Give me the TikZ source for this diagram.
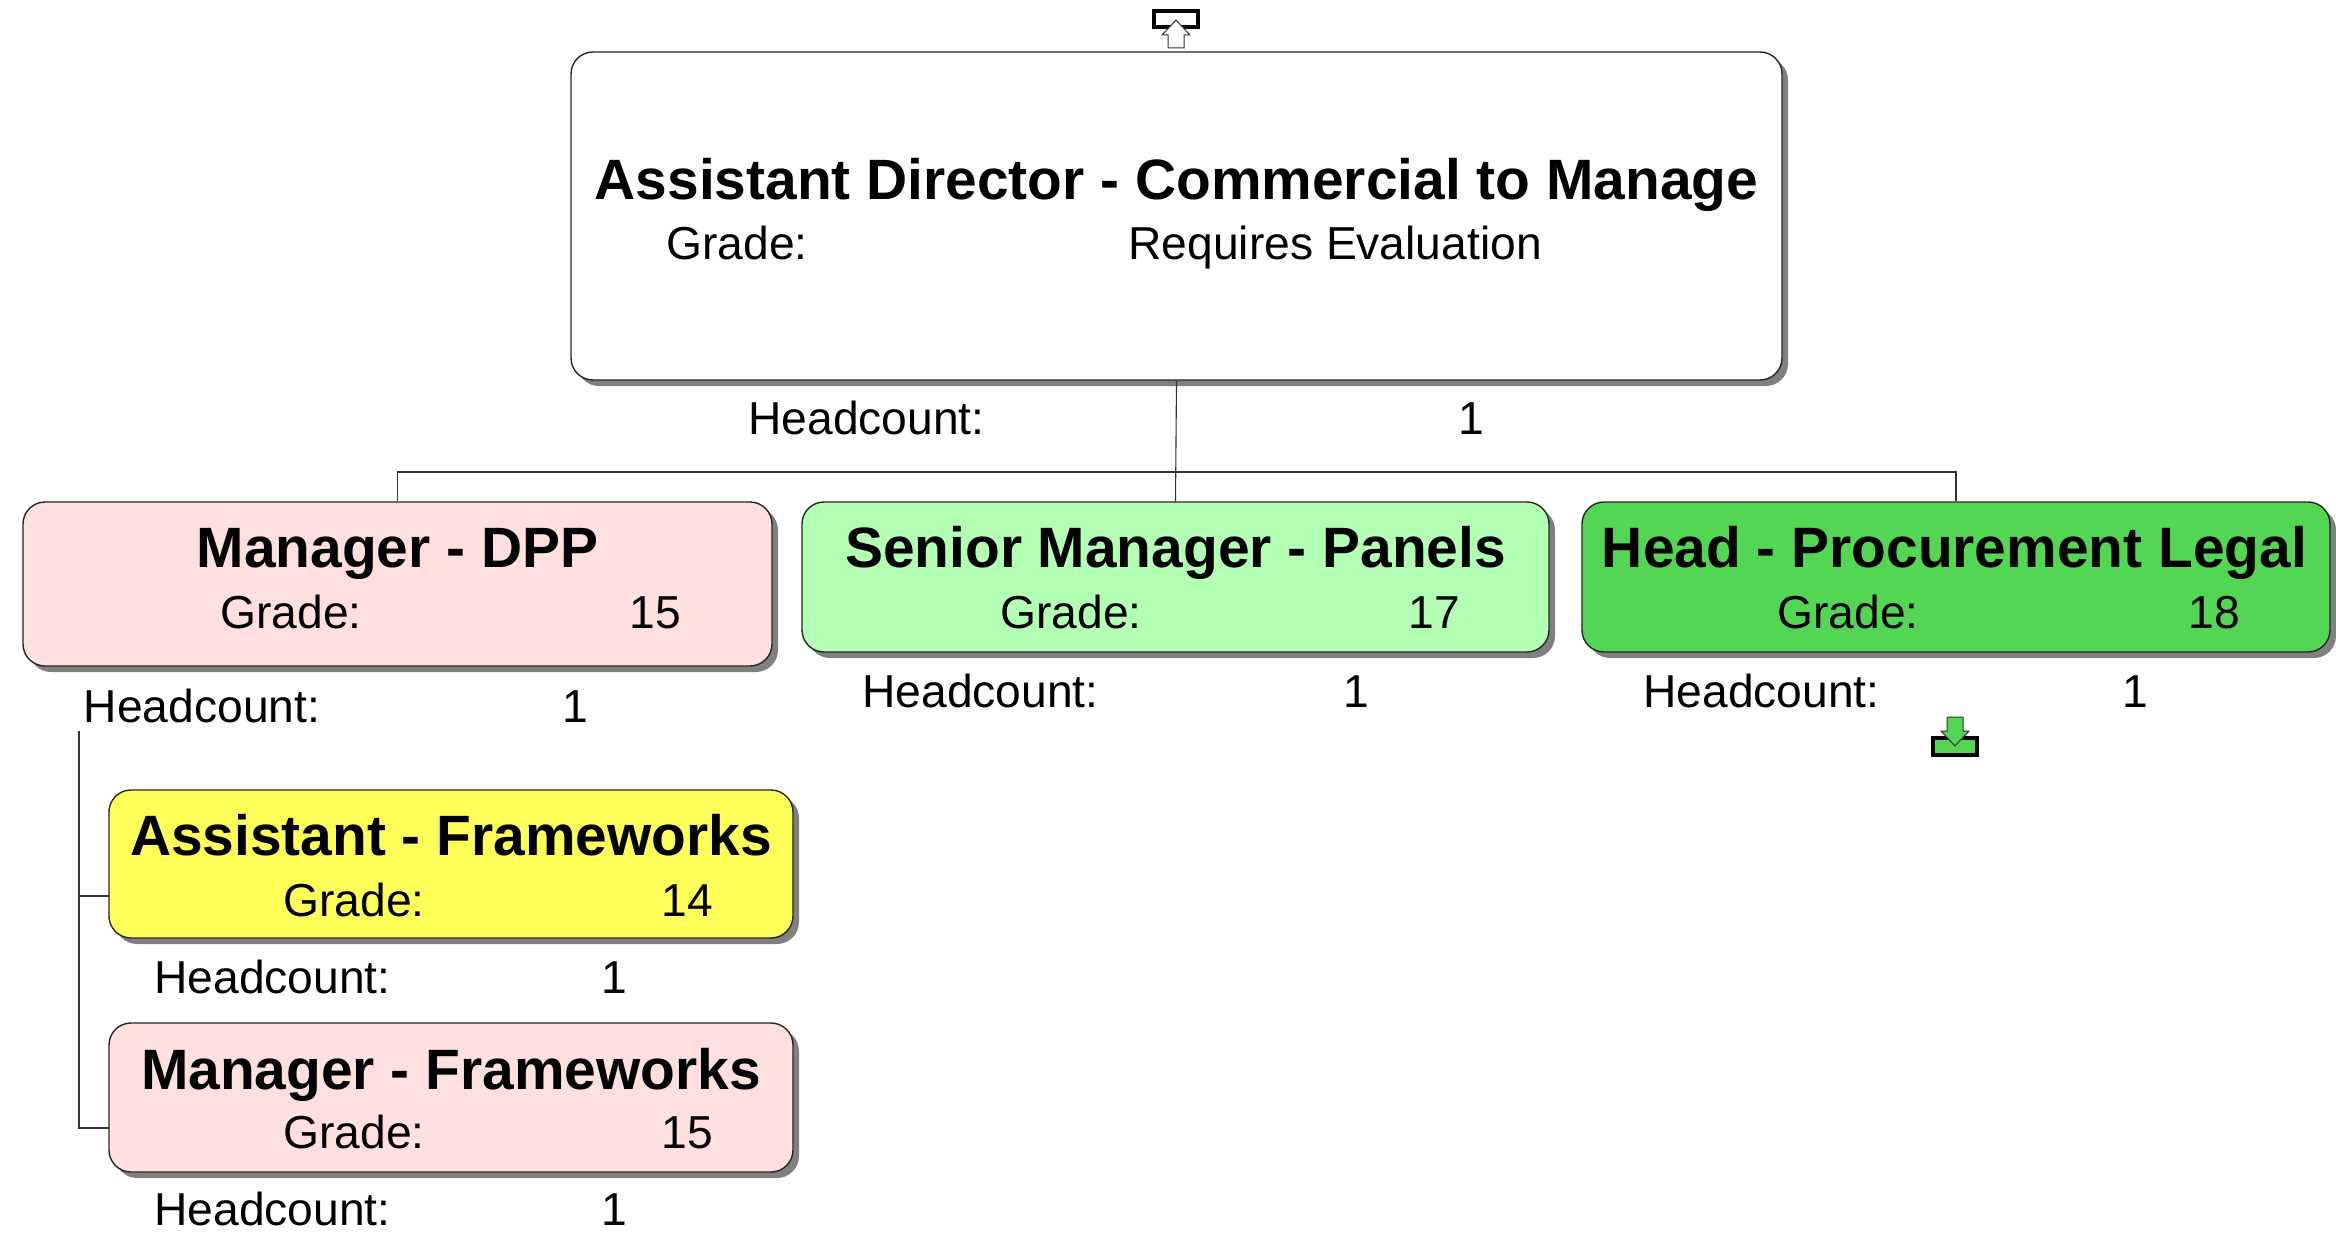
\documentclass[tikz,border=0pt]{standalone}
\usepackage{fontspec}
\setmainfont{Liberation Sans}
\usetikzlibrary{shadows}
\definecolor{pinkbox}{HTML}{FFE0DE}
\definecolor{mintbox}{HTML}{B3FFB3}
\definecolor{greenbox}{HTML}{53D653}
\definecolor{yellowbox}{HTML}{FFFF59}
\tikzset{
    orgbox/.style={draw=black!85, line width=.7pt, rounded corners=11pt, inner sep=0pt,
        general shadow={shadow xshift=3pt, shadow yshift=-3pt, fill=black!50}},
    titletext/.style={anchor=base, font=\fontsize{28.45}{30}\selectfont\bfseries, inner sep=0pt},
    bodytext/.style={anchor=base west, font=\fontsize{23.1}{26}\selectfont, inner sep=0pt},
    counttext/.style={anchor=base, font=\fontsize{23.1}{26}\selectfont, inner sep=0pt},
    linkline/.style={draw=black!80, line width=.55pt},
    iconline/.style={draw=black, line width=2pt},
    arrowline/.style={draw=black!80, line width=.5pt, fill=#1}
}
\begin{document}
\begin{tikzpicture}[x=.5pt,y=-.5pt]
    \useasboundingbox (0,0) rectangle (2336,1247);

    % free ends of the connectors
    \coordinate (bus) at (1176,472);
    \coordinate (spine) at (79,731);
    \coordinate (assistantstub) at (109,896);
    \coordinate (frameworksstub) at (109,1128);

    \node[orgbox, fill=white, minimum width=605.5pt, minimum height=164pt] (top) at (1176.5,216) {};
    \node[orgbox, fill=pinkbox, minimum width=374.5pt, minimum height=82pt] (dpp) at (397.5,584) {};
    \node[orgbox, fill=mintbox, minimum width=373.5pt, minimum height=75pt] (panels) at (1175.5,577) {};
    \node[orgbox, fill=greenbox, minimum width=374pt, minimum height=75pt] (legal) at (1956,577) {};
    \node[orgbox, fill=yellowbox, minimum width=342pt, minimum height=74pt] (assistant) at (451,864) {};
    \node[orgbox, fill=pinkbox, minimum width=342pt, minimum height=74.5pt] (frameworks) at (451,1097.5) {};

    \draw[linkline] (top.south) -- (panels.north);
    \draw[linkline] (dpp.north) |- (bus) -| (legal.north);
    \draw[linkline] (spine) |- (assistantstub);
    \draw[linkline] (spine) |- (frameworksstub);

    % top box
    \node[titletext] (topname) at (1176.5,199) {Assistant Director - Commercial to Manage};
    \node[bodytext] (topgrade) at (666,259) {Grade:};
    \node[bodytext] (topgradeval) at (1128,259) {Requires Evaluation};
    \node[bodytext] (tophead) at (748,434) {Headcount:};
    \node[counttext] (topheadval) at (1471,434) {1};

    % second row
    \node[titletext] (dppname) at (397.5,567) {Manager - DPP};
    \node[bodytext] (dppgrade) at (220,628) {Grade:};
    \node[bodytext] (dppgradeval) at (629,628) {15};
    \node[bodytext] (dpphead) at (83.5,722) {Headcount:};
    \node[counttext] (dppheadval) at (575.5,722) {1};

    \node[titletext] (panelsname) at (1175.5,567) {Senior Manager - Panels};
    \node[bodytext] (panelsgrade) at (1000,628) {Grade:};
    \node[bodytext] (panelsgradeval) at (1408,628) {17};
    \node[bodytext] (panelshead) at (862,707) {Headcount:};
    \node[counttext] (panelsheadval) at (1356.5,707) {1};

    \node[titletext] (legalname) at (1954.5,567) {Head - Procurement Legal};
    \node[bodytext] (legalgrade) at (1777,628) {Grade:};
    \node[bodytext] (legalgradeval) at (2188,628) {18};
    \node[bodytext] (legalhead) at (1643,707) {Headcount:};
    \node[counttext] (legalheadval) at (2135,707) {1};

    % left column
    \node[titletext] (assistantname) at (451,855) {Assistant - Frameworks};
    \node[bodytext] (assistantgrade) at (283,916) {Grade:};
    \node[bodytext] (assistantgradeval) at (661,916) {14};
    \node[bodytext] (assistanthead) at (154,993) {Headcount:};
    \node[counttext] (assistantheadval) at (614.5,993) {1};

    \node[titletext] (frameworksname) at (451,1089) {Manager - Frameworks};
    \node[bodytext] (frameworksgrade) at (283,1148) {Grade:};
    \node[bodytext] (frameworksgradeval) at (661,1148) {15};
    \node[bodytext] (frameworkshead) at (154,1225) {Headcount:};
    \node[counttext] (frameworksheadval) at (614.5,1225) {1};

    % the two small icons
    \draw[iconline, fill=white] (1154,11) rectangle (1198,27);
    \draw[arrowline=white] (1176,20) -- (1190,35) -- (1184,35) -- (1184,48) -- (1168,48) -- (1168,35) -- (1162,35) -- cycle;
    \draw[iconline, fill=greenbox] (1933,738) rectangle (1977,755);
    \draw[arrowline=greenbox] (1955,746) -- (1941,731) -- (1947,731) -- (1947,717) -- (1963,717) -- (1963,731) -- (1969,731) -- cycle;
\end{tikzpicture}
\end{document}
